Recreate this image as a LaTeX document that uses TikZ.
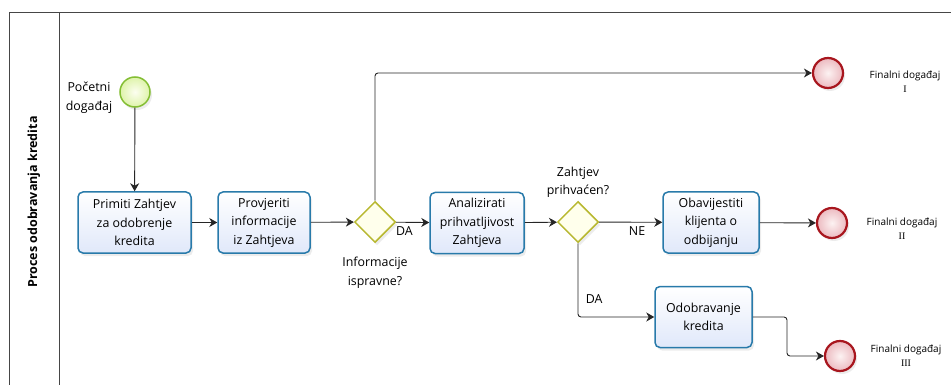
\documentclass[tikz,border=0pt]{standalone}
\usepackage{fontspec}
\setmainfont{Open Sans}
\newfontfamily\numfont{Liberation Serif}
\usetikzlibrary{arrows.meta,shapes.geometric,shadows}

\definecolor{taskblue}{RGB}{40,122,170}
\definecolor{taskfill}{RGB}{224,232,250}
\definecolor{startgreen}{RGB}{132,190,52}
\definecolor{endred}{RGB}{168,22,30}
\definecolor{gateolive}{RGB}{184,184,48}
\definecolor{gatefill}{RGB}{255,255,236}
\definecolor{framegray}{RGB}{70,70,70}

\tikzset{
  task/.style={draw=taskblue, line width=1.5pt, rounded corners=5pt,
    top color=white, bottom color=taskfill, minimum height=61pt,
    align=center, font=\fontsize{12.4}{18.5}\selectfont,
    drop shadow={opacity=0.15, shadow xshift=2pt, shadow yshift=-3pt}},
  gate/.style={diamond, draw=gateolive, line width=1.5pt, fill=gatefill,
    minimum width=41pt, minimum height=41pt, inner sep=0pt,
    drop shadow={opacity=0.15, shadow xshift=2pt, shadow yshift=-3pt}},
  startev/.style={circle, draw=startgreen, line width=1.5pt, minimum size=30pt,
    inner color={rgb,255:red,252;green,254;blue,240},
    outer color={rgb,255:red,222;green,243;blue,170},
    drop shadow={opacity=0.15, shadow xshift=2pt, shadow yshift=-3pt}},
  endev/.style={circle, draw=endred, line width=2.2pt, minimum size=30pt,
    inner color={rgb,255:red,252;green,242;blue,242},
    outer color={rgb,255:red,236;green,186;blue,192},
    drop shadow={opacity=0.15, shadow xshift=2pt, shadow yshift=-3pt}},
  flow/.style={draw=black!85, line width=0.9pt,
    -{Stealth[length=8pt,width=9pt,inset=2.5pt]}},
  lbl/.style={align=center, font=\fontsize{12.4}{18.5}\selectfont},
  endlbl/.style={align=center, font=\fontsize{10}{14}\selectfont},
}

\begin{document}
\begin{tikzpicture}[x=1pt,y=-1pt]
\useasboundingbox (0,0) rectangle (951,385);
% pool with its header
\draw[framegray, line width=1pt] (951,12.5) -- (9,12.5) -- (9,386);
\draw[framegray, line width=1pt] (59.5,12.5) -- (59.5,386);
\node[rotate=90, font=\bfseries\fontsize{12.5}{14}\selectfont] (pool) at (34,202) {Proces odobravanja kredita};

% events
\node[startev] (start) at (135,92) {};
\node[endev] (end1) at (828,73) {};
\node[endev] (end2) at (832,223) {};
\node[endev] (end3) at (840,356) {};

% tasks and gateways
\node[task, minimum width=113pt] (prim) at (134.5,222.5) {Primiti Zahtjev\\za odobrenje\\kredita};
\node[task, minimum width=92pt] (prov) at (264,222.5) {Provjeriti\\informacije\\iz Zahtjeva};
\node[gate] (ispr) at (375,222) {};
\node[task, minimum width=94pt] (anal) at (477,223) {Analizirati\\prihvatljivost\\Zahtjeva};
\node[gate] (prihv) at (578,222) {};
\node[task, minimum width=96pt] (obav) at (711,222.5) {Obavijestiti\\klijenta o\\odbijanju};
\node[task, minimum width=97pt] (odob) at (703.5,317) {Odobravanje\\kredita};
\coordinate (bend3) at (787,317);

% labels
\node[lbl] (startlbl) at (89,97.5) {Početni\\događaj};
\node[lbl] (isprlbl) at (375,272.5) {Informacije\\ispravne?};
\node[lbl] (prihvlbl) at (578,182.5) {Zahtjev\\prihvaćen?};
\node[endlbl] (end1lbl) at (905,82) {Finalni događaj\\{\numfont I}};
\node[endlbl] (end2lbl) at (902,229) {Finalni događaj\\{\numfont II}};
\node[endlbl] (end3lbl) at (906,356) {Finalni događaj\\{\numfont III}};

% sequence flows
\draw[flow] (start) -- (prim);
\draw[flow] (prim) -- (prov);
\draw[flow] (prov) -- (ispr);
\draw[flow, rounded corners=3pt] (ispr.north) |- (end1);
\draw[flow] (ispr) -- (anal) node[lbl, pos=0.25, below=1pt] {DA};
\draw[flow] (anal) -- (prihv);
\draw[flow] (prihv) -- (obav) node[lbl, pos=0.6, below=1pt] {NE};
\draw[flow] (obav) -- (end2);
\draw[flow, rounded corners=3pt] (prihv.south) |- (odob) node[lbl, pos=0.38, right=4pt] {DA};
\draw[flow, rounded corners=3pt] (odob.east) -| (bend3 |- end3) -- (end3);
\end{tikzpicture}
\end{document}
